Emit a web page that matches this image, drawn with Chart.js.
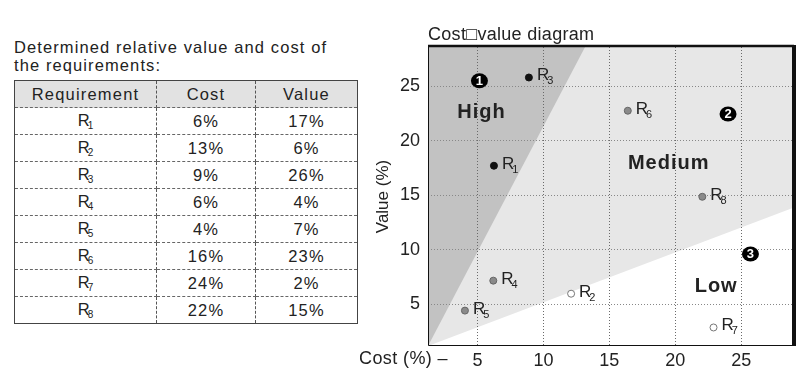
<!DOCTYPE html>
<html lang="en">
<head>
<meta charset="UTF-8">
<title>Cost-value diagram</title>
<script src="https://cdn.jsdelivr.net/npm/chart.js"></script>
<style>
    body { margin: 0; width: 800px; height: 370px; background: #fff; font-family: "Liberation Sans", Arial, sans-serif; color: #222; position: relative; overflow: hidden; }
    .titulo { position: absolute; left: 14px; top: 38px; font-size: 16.5px; line-height: 18px; letter-spacing: 1.1px; }
    table { position: absolute; left: 14px; top: 80px; width: 343px; border-collapse: collapse; border: 1.5px solid #444; font-size: 16.5px; letter-spacing: 1.2px; table-layout: fixed; }
    th, td { text-align: center; height: 26px; padding: 0; border-right: 1px dashed #555; border-bottom: 1px dashed #666; }
    th { background: #e2e2e2; font-weight: normal; height: 26px; }
    td sub, th sub { font-size: 10px; vertical-align: -3px; margin-left: -3px; letter-spacing: 0; }
    .grafico { position: absolute; left: 360px; top: 0; width: 440px; height: 370px; }
</style>
</head>
<body>
<div class="titulo">Determined relative value and cost of<br>the requirements:</div>
<table id="tabela"></table>
<div class="grafico"><canvas id="myChart"></canvas></div>

<script>
    // tabela
    const requisitos = ['1', '2', '3', '4', '5', '6', '7', '8'];
    const custoTabela = [6, 13, 9, 6, 4, 16, 24, 22];
    const valorTabela = [17, 6, 26, 4, 7, 23, 2, 15];

    // pontos no diagrama
    const custoPonto = [6.25, 12.1, 8.9, 6.2, 4.05, 16.4, 22.9, 22.05];
    const valorPonto = [17.7, 5.95, 25.8, 7.15, 4.4, 22.75, 2.85, 14.85];
    const corPonto = ['#111', '#fff', '#111', '#8a8a8a', '#8a8a8a', '#8a8a8a', '#fff', '#8a8a8a'];
    const bordaPonto = ['#111', '#777', '#111', '#666', '#666', '#666', '#777', '#666'];

    const ticksX = [5, 10, 15, 20, 25];
    const ticksY = [5, 10, 15, 20, 25];
    const limX = [1.25, 28.85];
    const limY = [1.15, 28.6];

    // regioes
    const regiaoAlta = [[1.25, 1.15], [13.16, 28.6], [1.25, 28.6]];
    const regiaoBaixa = [[1.25, 1.15], [28.85, 13.8], [28.85, 1.15]];
    const rotulosRegiao = ['High', 'Medium', 'Low'];
    const rotuloX = [5.3, 19.5, 23.1];
    const rotuloY = [22.6, 17.9, 6.6];
    const marcas = ['1', '2', '3'];
    const marcaX = [5.15, 24.0, 25.7];
    const marcaY = [25.5, 22.45, 9.6];

    let html = '<colgroup><col style="width:142px"><col style="width:99px"><col style="width:102px"></colgroup>';
    html += '<tr><th>Requirement</th><th>Cost</th><th>Value</th></tr>';
    requisitos.forEach((r, i) => {
        html += `<tr><td>R<sub>${r}</sub></td><td>${custoTabela[i]}%</td><td>${valorTabela[i]}%</td></tr>`;
    });
    tabela.innerHTML = html;

    const fonte = '"Liberation Sans", Arial, sans-serif';

    function poligono(ctx, chart, pts, cor) {
        const sx = chart.scales.x, sy = chart.scales.y;
        ctx.beginPath();
        pts.forEach((p, i) => {
            const px = sx.getPixelForValue(p[0]), py = sy.getPixelForValue(p[1]);
            if (i == 0) ctx.moveTo(px, py); else ctx.lineTo(px, py);
        });
        ctx.closePath();
        ctx.fillStyle = cor;
        ctx.fill();
    }

    const fundo = {
        id: 'fundo',
        beforeDraw(chart) {
            const ctx = chart.ctx, a = chart.chartArea;
            ctx.save();
            ctx.fillStyle = '#e7e7e7';
            ctx.fillRect(a.left, a.top, a.right - a.left, a.bottom - a.top);
            poligono(ctx, chart, regiaoAlta, '#c2c2c2');
            poligono(ctx, chart, regiaoBaixa, '#ffffff');
            ctx.restore();
        }
    };

    const textos = {
        id: 'textos',
        afterDraw(chart) {
            const ctx = chart.ctx, a = chart.chartArea;
            const sx = chart.scales.x, sy = chart.scales.y;
            ctx.save();

            // moldura
            ctx.strokeStyle = '#111';
            ctx.lineWidth = 1;
            ctx.beginPath();
            ctx.moveTo(a.left + 0.5, a.top);
            ctx.lineTo(a.left + 0.5, a.bottom - 0.5);
            ctx.lineTo(a.right, a.bottom - 0.5);
            ctx.stroke();
            ctx.lineWidth = 2.5;
            ctx.beginPath();
            ctx.moveTo(a.left, a.top - 1);
            ctx.lineTo(a.right + 2, a.top - 1);
            ctx.stroke();
            ctx.lineWidth = 4;
            ctx.beginPath();
            ctx.moveTo(a.right + 2, a.top - 2);
            ctx.lineTo(a.right + 2, a.bottom);
            ctx.stroke();

            // titulo
            ctx.fillStyle = '#222';
            ctx.font = '18px ' + fonte;
            ctx.textAlign = 'left';
            ctx.textBaseline = 'middle';
            ctx.letterSpacing = '0.3px';
            ctx.fillText('Cost\u25A1value diagram', a.left, 35);

            // eixo x
            ctx.letterSpacing = '0.4px';
            ctx.fillText('Cost (%) \u2013', -1, 359);

            // regioes
            ctx.font = 'bold 20px ' + fonte;
            ctx.letterSpacing = '1px';
            ctx.textAlign = 'center';
            rotulosRegiao.forEach((t, i) => {
                ctx.fillText(t, sx.getPixelForValue(rotuloX[i]), sy.getPixelForValue(rotuloY[i]));
            });
            ctx.letterSpacing = '0px';

            // marcas numeradas
            marcas.forEach((m, i) => {
                const px = sx.getPixelForValue(marcaX[i]), py = sy.getPixelForValue(marcaY[i]);
                ctx.fillStyle = '#000';
                ctx.beginPath();
                ctx.ellipse(px, py, 8.5, 7.5, 0, 0, Math.PI * 2);
                ctx.fill();
                ctx.fillStyle = '#fff';
                ctx.font = 'bold 13px ' + fonte;
                ctx.fillText(m, px, py + 0.5);
            });

            // nomes dos pontos
            ctx.fillStyle = '#222';
            ctx.textAlign = 'left';
            ctx.textBaseline = 'alphabetic';
            requisitos.forEach((r, i) => {
                const px = sx.getPixelForValue(custoPonto[i]) + 8;
                const py = sy.getPixelForValue(valorPonto[i]) + 3;
                ctx.font = '17px ' + fonte;
                ctx.fillText('R', px, py);
                const w = ctx.measureText('R').width;
                ctx.font = '11px ' + fonte;
                ctx.fillText(r, px + w - 2, py + 4);
            });
            ctx.restore();
        }
    };

    const ctx = document.getElementById('myChart');

    new Chart(ctx, {
        type: 'scatter',
        data: {
            datasets: [{
                data: custoPonto.map((c, i) => ({ x: c, y: valorPonto[i] })),
                pointBackgroundColor: corPonto,
                pointBorderColor: bordaPonto,
                pointBorderWidth: 1,
                pointRadius: 3.5
            }]
        },
        options: {
            responsive: true,
            maintainAspectRatio: false,
            animation: false,
            layout: { padding: { top: 47, right: 8 } },
            plugins: {
                legend: { display: false },
                tooltip: { enabled: false }
            },
            scales: {
                x: {
                    min: limX[0],
                    max: limX[1],
                    afterBuildTicks: axis => { axis.ticks = ticksX.map(v => ({ value: v })); },
                    afterFit: axis => { axis.height = 24; },
                    grid: { color: '#6a6a6a', drawTicks: false },
                    border: { display: false, dash: [1, 2] },
                    ticks: { color: '#222', font: { size: 18, family: fonte }, padding: 4 }
                },
                y: {
                    min: limY[0],
                    max: limY[1],
                    afterBuildTicks: axis => { axis.ticks = ticksY.map(v => ({ value: v })); },
                    afterFit: axis => { axis.width = 68; },
                    grid: { color: '#888', drawTicks: false },
                    border: { display: false, dash: [1, 2] },
                    ticks: { color: '#222', font: { size: 18, family: fonte }, padding: 8 },
                    title: { display: true, text: 'Value (%)', color: '#222', font: { size: 17, family: fonte }, padding: { top: 13 } }
                }
            }
        },
        plugins: [fundo, textos]
    });
</script>
</body>
</html>
